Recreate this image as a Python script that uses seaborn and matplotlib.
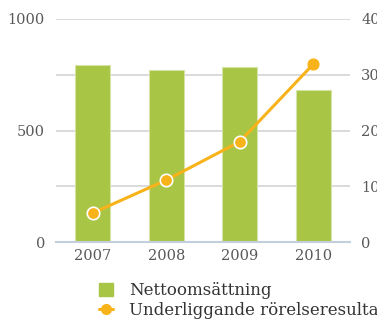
import matplotlib
matplotlib.use("Agg")
import matplotlib.pyplot as plt
import seaborn as sns
import numpy as np
import pandas as pd
from matplotlib.patches import Patch
from matplotlib.lines import Line2D

years = ["2007", "2008", "2009", "2010"]
nettoomsattning = [795, 770, 783, 680]
rorelseresultat = [5.2, 11.1, 18.0, 31.9]
left_ticks = [0, 500, 1000]
grid_ticks = [0, 250, 500, 750, 1000]
right_ticks = [0, 10, 20, 30, 40]
legend_labels = ["Nettoomsättning", "Underliggande rörelseresultat"]

GREEN = "#a8c545"
ORANGE = "#f8b31a"
TEXT = "#595959"
GRID = "#d4d4d4"
AXIS = "#c3cfdc"

sns.set_theme(style="white")
plt.rcParams["font.family"] = ["DejaVu Serif"]

fig = plt.figure(figsize=(3.77, 3.20), dpi=100)
ax = fig.add_axes([56/377, 1-242/320, (350-56)/377, (242-19)/320])

df = pd.DataFrame({"year": years, "value": nettoomsattning})
sns.barplot(data=df, x="year", y="value", ax=ax, color=GREEN, width=0.47,
            saturation=1, edgecolor="#d6e4a6", linewidth=0.8, zorder=2)
ax.set_xlim(-0.5, len(years) - 0.5)
ax.set_ylim(0, 1000)
ax.set_yticks(grid_ticks)
ax.set_yticklabels([str(t) if t in left_ticks else "" for t in grid_ticks])
ax.grid(axis="y", color=GRID, linewidth=1.2, zorder=0)
ax.set_axisbelow(True)
ax.set_xlabel("")
ax.set_ylabel("")
for s in ["left", "right", "top"]:
    ax.spines[s].set_visible(False)
ax.spines["bottom"].set_color(AXIS)
ax.spines["bottom"].set_linewidth(1.5)
ax.tick_params(axis="y", length=0, pad=8, labelsize=10.5, labelcolor=TEXT)
ax.tick_params(axis="x", which="major", length=0, pad=5, labelsize=10.5, labelcolor=TEXT)
ax.set_xticks(np.arange(len(years)) + 0.5, minor=True)
ax.tick_params(axis="x", which="minor", length=5, width=1.2, color=AXIS, direction="out")

ax2 = ax.twinx()
ax2.set_ylim(0, 40)
ax2.set_yticks(right_ticks)
ax2.tick_params(axis="y", length=0, pad=8, labelsize=10.5, labelcolor=TEXT)
for s in ["left", "right", "top", "bottom"]:
    ax2.spines[s].set_visible(False)
ax2.grid(False)
x = np.arange(len(years))
sns.lineplot(x=x, y=rorelseresultat, ax=ax2, color=ORANGE, linewidth=2.2, zorder=3)
ax2.scatter(x[:-1], rorelseresultat[:-1], s=80, color=ORANGE, edgecolor="white",
            linewidth=1.2, zorder=4)
ax2.scatter(x[-1:], rorelseresultat[-1:], s=60, color=ORANGE, edgecolor=ORANGE,
            linewidth=1.0, zorder=4)

handles = [
    Patch(facecolor=GREEN, edgecolor=GREEN),
    Line2D([0], [0], color=ORANGE, linewidth=2.2, marker="o", markersize=7,
           markerfacecolor=ORANGE, markeredgecolor=ORANGE),
]
fig.legend(handles, legend_labels, loc="upper left", bbox_to_anchor=(99/377, 1-282/320),
           frameon=False, fontsize=12, labelcolor="#333333", handlelength=0.85,
           handleheight=0.85, handletextpad=0.95, labelspacing=0.2, borderpad=0,
           borderaxespad=0)

fig.savefig("out.png", dpi=100)
